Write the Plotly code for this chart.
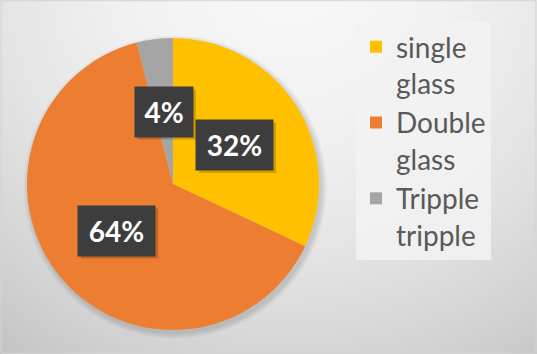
import math, zlib, struct, base64
import numpy as np
import plotly.graph_objects as go

# ---- data ----
categories = ["single glass", "Double glass", "Tripple tripple"]
legend_labels = ["single<br>glass", "Double<br>glass", "Tripple<br>tripple"]
values = [32, 64, 4]
colors = ["#FFC000", "#ED7D31", "#A5A5A5"]

W, H = 537, 354
CX, CY, R = 173, 184, 146  # pie centre / radius in px (from top-left)

# ---- background gradient image ----
yy, xx = np.mgrid[0:H, 0:W]
d = np.sqrt((xx - 290.0) ** 2 + (yy + 40.0) ** 2)
c = np.clip(247 - 50 * (d / 480.0) ** 2, 190, 250).astype(np.uint8)
img = np.dstack([c, c, c])

def png_bytes(arr):
    h, w, _ = arr.shape
    raw = b"".join(b"\x00" + arr[i].tobytes() for i in range(h))
    def chunk(t, dd):
        return struct.pack(">I", len(dd)) + t + dd + struct.pack(">I", zlib.crc32(t + dd) & 0xffffffff)
    return (b"\x89PNG\r\n\x1a\n" + chunk(b"IHDR", struct.pack(">IIBBBBB", w, h, 8, 2, 0, 0, 0))
            + chunk(b"IDAT", zlib.compress(raw, 9)) + chunk(b"IEND", b""))

bg_src = "data:image/png;base64," + base64.b64encode(png_bytes(img)).decode()

def px2paper(x, y):
    return x / W, 1 - y / H

fig = go.Figure()
fig.add_trace(go.Pie(
    labels=legend_labels,
    values=values,
    marker=dict(colors=colors, line=dict(width=0)),
    sort=False,
    direction="clockwise",
    rotation=0,
    textinfo="none",
    hoverinfo="label+percent",
    domain=dict(x=[(CX - R) / W, (CX + R) / W], y=[(H - CY - R) / H, (H - CY + R) / H]),
))

shapes = []
# soft pie shadow
for i in range(4):
    rr = R + 1 + i * 1.5
    ox, oy = CX + 2, CY + 3
    x0, y1 = px2paper(ox - rr, oy - rr)
    x1, y0 = px2paper(ox + rr, oy + rr)
    shapes.append(dict(type="circle", xref="paper", yref="paper", x0=x0, x1=x1, y0=y0, y1=y1,
                       fillcolor="rgba(0,0,0,0.035)", line=dict(width=0), layer="below"))

annotations = []
total = sum(values)
cum = 0
for v in values:
    mid = (cum + v / 2) / total * 2 * math.pi
    cum += v
    lx = CX + 0.5 * R * math.sin(mid)
    ly = CY - 0.5 * R * math.cos(mid)
    txt = f"{round(v / total * 100)}%"
    bw = 20 + 19 * len(txt)
    bh = 50
    # shadow behind label box
    sx0, sy1 = px2paper(lx - bw / 2 + 3, ly - bh / 2 + 3)
    sx1, sy0 = px2paper(lx + bw / 2 + 3, ly + bh / 2 + 3)
    shapes.append(dict(type="rect", xref="paper", yref="paper", x0=sx0, x1=sx1, y0=sy0, y1=sy1,
                       fillcolor="rgba(0,0,0,0.18)", line=dict(width=0), layer="above"))
    ax, ay = px2paper(lx, ly)
    annotations.append(dict(
        x=ax, y=ay, xref="paper", yref="paper", text=txt, showarrow=False,
        xanchor="center", yanchor="middle", width=bw, height=bh, borderpad=0,
        bgcolor="#3d3d3d", font=dict(family="Lato", size=28, color="white", weight="bold"),
    ))

# thin outer border
shapes.append(dict(type="rect", xref="paper", yref="paper", x0=0.002, x1=0.998, y0=0.002, y1=0.998,
                   line=dict(color="#d4d4d4", width=1), fillcolor="rgba(0,0,0,0)", layer="above"))

fig.update_layout(
    width=W, height=H,
    margin=dict(l=0, r=0, t=0, b=0),
    paper_bgcolor="#e0e0e0",
    images=[dict(source=bg_src, xref="paper", yref="paper", x=0, y=1, sizex=1, sizey=1,
                 xanchor="left", yanchor="top", sizing="stretch", layer="below")],
    showlegend=True,
    legend=dict(
        x=356 / W, y=1 - 22 / H, xanchor="left", yanchor="top",
        bgcolor="rgba(242,242,242,0.85)", borderwidth=0,
        font=dict(family="Lato", size=28, color="#595959"),
        valign="top", traceorder="normal",
    ),
    shapes=shapes,
    annotations=annotations,
)

fig.write_html("out.html")
